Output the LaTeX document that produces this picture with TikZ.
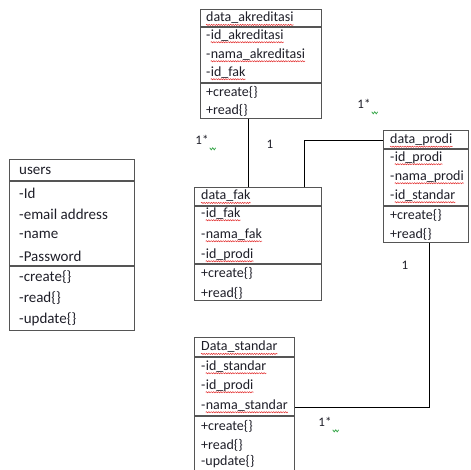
\documentclass[tikz,border=0pt]{standalone}
\usepackage{fontspec}
\setmainfont{Carlito}
\usetikzlibrary{decorations.pathmorphing}
\definecolor{spellred}{RGB}{225,40,40}
\definecolor{boxline}{RGB}{85,85,85}
\definecolor{ink}{RGB}{30,30,40}
\definecolor{grammar}{RGB}{40,160,60}
\begin{document}
\begin{tikzpicture}[x=1pt,y=-1pt,
  classbox/.style={draw=boxline,line width=1.2pt,rectangle,inner sep=0pt,anchor=north west},
  divider/.style={draw=boxline,line width=1.2pt},
  txt/.style={anchor=west,inner sep=0pt,text=ink,font=\fontsize{14}{16}\selectfont},
  after/.style={txt,anchor=base west},
  utxt/.style={txt,font=\fontsize{15}{18}\selectfont},
  conn/.style={draw=black,line width=0.9pt},
  mult/.style={inner sep=0pt,text=ink,font=\fontsize{13}{15}\selectfont},
  squig/.style={draw=spellred,line width=0.5pt,decorate,
    decoration={snake,amplitude=0.6pt,segment length=2.4pt}},
  gmark/.style={draw=grammar,line width=0.7pt}]
\useasboundingbox (0,0) rectangle (470,470);
\clip (0,0) rectangle (470,470);

% data_akreditasi
\node[classbox,minimum width=121pt,minimum height=109pt] (akr) at (200,9) {};
\draw[divider] (akr.west |- 0,27) -- (akr.east |- 0,27);
\draw[divider] (akr.west |- 0,83) -- (akr.east |- 0,83);
\node[txt] (akr0) at (206,18) {data\_akreditasi};
\node[txt] (akr1d) at (206,37) {-};
\node[after] (akr1) at (akr1d.base east) {id\_akreditasi};
\node[txt] (akr2d) at (206,56) {-};
\node[after] (akr2) at (akr2d.base east) {nama\_akreditasi};
\node[txt] (akr3d) at (206,74) {-};
\node[after] (akr3) at (akr3d.base east) {id\_fak};
\node[txt] (akr4) at (206,92) {+create\{\}};
\node[txt] (akr5) at (206,110) {+read\{\}};

% users
\node[classbox,minimum width=125pt,minimum height=171pt] (usr) at (9,159) {};
\draw[divider] (usr.west |- 0,181) -- (usr.east |- 0,181);
\draw[divider] (usr.west |- 0,266) -- (usr.east |- 0,266);
\node[utxt] (usr0) at (19,171) {users};
\node[utxt] (usr1) at (19,193) {-Id};
\node[utxt] (usr2) at (19,214) {-email address};
\node[utxt] (usr3) at (19,235) {-name};
\node[utxt] (usr4) at (19,256) {-Password};
\node[utxt] (usr5) at (19,277) {-create\{\}};
\node[utxt] (usr6) at (19,298) {-read\{\}};
\node[utxt] (usr7) at (19,319) {-update\{\}};

% data_fak
\node[classbox,minimum width=127pt,minimum height=113pt] (fak) at (194,187) {};
\draw[divider] (fak.west |- 0,206) -- (fak.east |- 0,206);
\draw[divider] (fak.west |- 0,264) -- (fak.east |- 0,264);
\node[txt] (fak0) at (201,196) {data\_fak};
\node[txt] (fak1d) at (201,215) {-};
\node[after] (fak1) at (fak1d.base east) {id\_fak};
\node[txt] (fak2d) at (201,236) {-};
\node[after] (fak2) at (fak2d.base east) {nama\_fak};
\node[txt] (fak3d) at (201,256) {-};
\node[after] (fak3) at (fak3d.base east) {id\_prodi};
\node[txt] (fak4) at (201,273) {+create\{\}};
\node[txt] (fak5) at (201,293) {+read\{\}};

% data_prodi
\node[classbox,minimum width=85pt,minimum height=112pt] (pro) at (383,130) {};
\draw[divider] (pro.west |- 0,149) -- (pro.east |- 0,149);
\draw[divider] (pro.west |- 0,206) -- (pro.east |- 0,206);
\node[txt] (pro0) at (390,140) {data\_prodi};
\node[txt] (pro1d) at (390,159) {-};
\node[after] (pro1) at (pro1d.base east) {id\_prodi};
\node[txt] (pro2d) at (390,178) {-};
\node[after] (pro2) at (pro2d.base east) {nama\_prodi};
\node[txt] (pro3d) at (390,197) {-};
\node[after] (pro3) at (pro3d.base east) {id\_standar};
\node[txt] (pro4) at (390,215) {+create\{\}};
\node[txt] (pro5) at (390,234) {+read\{\}};

% Data_standar
\node[classbox,minimum width=100pt,minimum height=140pt] (std) at (194,337) {};
\draw[divider] (std.west |- 0,357) -- (std.east |- 0,357);
\draw[divider] (std.west |- 0,416) -- (std.east |- 0,416);
\node[txt] (std0) at (201,347) {Data\_standar};
\node[txt] (std1d) at (201,368) {-};
\node[after] (std1) at (std1d.base east) {id\_standar};
\node[txt] (std2d) at (201,387) {-};
\node[after] (std2) at (std2d.base east) {id\_prodi};
\node[txt] (std3d) at (201,407) {-};
\node[after] (std3) at (std3d.base east) {nama\_standar};
\node[txt] (std4) at (201,426) {+create\{\}};
\node[txt] (std5) at (201,445) {+read\{\}};
\node[txt] (std6) at (201,462) {-update\{\}};

% spell-check underlines under the identifiers
\foreach \w in {akr0,akr1,akr2,akr3,fak0,fak1,fak2,fak3,pro0,pro1,pro2,pro3,std0,std1,std2,std3}
  \draw[squig] ([yshift=-3pt]\w.base west) -- ([yshift=-3pt]\w.base east);

% associations
\draw[conn] (akr.south -| 248,0) -- (fak.north -| 248,0);
\draw[conn] (fak.north -| 304,0) |- (pro.west |- 0,140);
\draw[conn] (pro.south -| 429,0) |- (std.east |- 0,407);

% multiplicities
\node[mult] (m1) at (202,140) {1*};
\node[mult] (m2) at (270,144) {1};
\node[mult] (m3) at (364,104) {1*};
\node[mult] (m4) at (405,265) {1};
\node[mult] (m5) at (325,422) {1*};
\foreach \m in {m1,m3,m5}
  \draw[gmark] ([shift={(1,3)}]\m.south east) -- ++(1.5,2) -- ++(1.5,-2) -- ++(1.5,2) -- ++(1.5,-2);
\end{tikzpicture}
\end{document}
